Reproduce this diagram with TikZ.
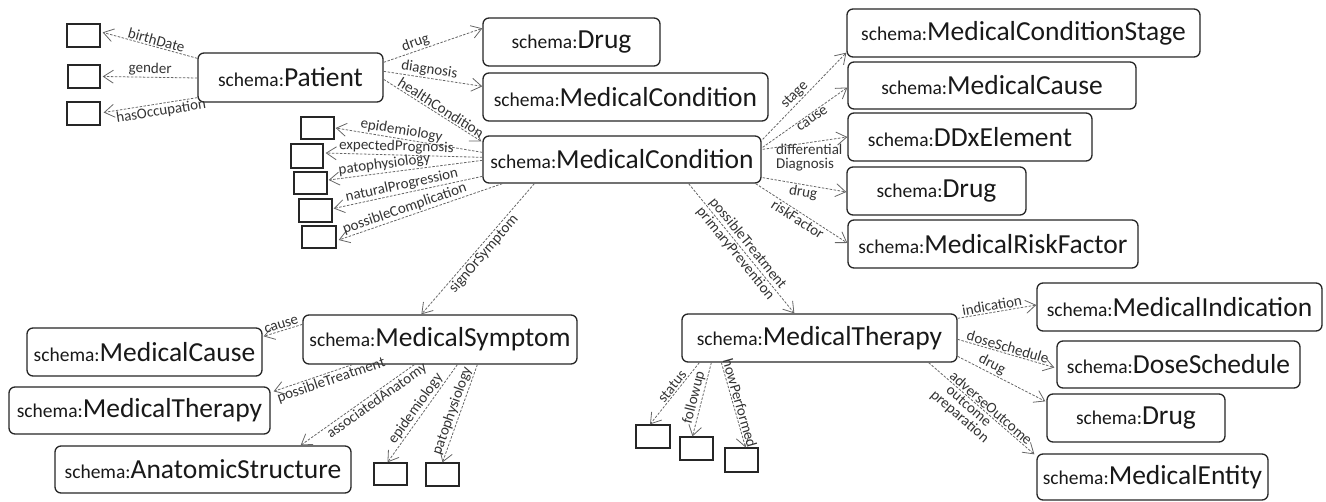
\documentclass[tikz,border=0pt]{standalone}
\usepackage{fontspec}
\setmainfont{Carlito}
\usetikzlibrary{arrows.meta,calc}
\newcommand{\schm}[1]{{\fontsize{19.5}{22}\selectfont schema:}{\fontsize{27.5}{31}\selectfont #1}}
\begin{document}
\begin{tikzpicture}[x=1pt,y=-1pt,
  cls/.style={draw=black!85, line width=1.3pt, rounded corners=6pt, fill=white, inner sep=0pt, text=black!90},
  lit/.style={draw=black!85, line width=1.3pt, fill=white, inner sep=0pt},
  rel/.style={draw=black!60, line width=0.8pt, dash pattern=on 2.5pt off 1.5pt, -{Straight Barb[length=10pt,width=13pt]}},
  labh/.style={font=\fontsize{15}{13.5}\selectfont, text=black!80, inner sep=1.2pt},
  lab/.style={labh, sloped}
]
\useasboundingbox (0,0) rectangle (1326,502);
% main boxes
\node[cls, minimum width=185pt, minimum height=49pt] (pat) at (290.5,77.5) {\schm{Patient}};
\node[cls, minimum width=177pt, minimum height=48pt] (drugA) at (571.5,42) {\schm{Drug}};
\node[cls, minimum width=285pt, minimum height=48pt] (mcA) at (625.5,97) {\schm{MedicalCondition}};
\node[cls, minimum width=278pt, minimum height=47pt] (mc) at (622,159.5) {\schm{MedicalCondition}};
\node[cls, minimum width=353pt, minimum height=48pt] (stage) at (1023.5,33) {\schm{MedicalConditionStage}};
\node[cls, minimum width=288pt, minimum height=47pt] (causeR) at (992,85.5) {\schm{MedicalCause}};
\node[cls, minimum width=244pt, minimum height=48pt] (ddx) at (970,137) {\schm{DDxElement}};
\node[cls, minimum width=179pt, minimum height=48pt] (drugR) at (936.5,191) {\schm{Drug}};
\node[cls, minimum width=290pt, minimum height=48pt] (risk) at (993,244) {\schm{MedicalRiskFactor}};
\node[cls, minimum width=274pt, minimum height=49pt] (sym) at (440,339.5) {\schm{MedicalSymptom}};
\node[cls, minimum width=235pt, minimum height=48pt] (causeL) at (144.5,352) {\schm{MedicalCause}};
\node[cls, minimum width=261pt, minimum height=47pt] (therL) at (139.5,410.5) {\schm{MedicalTherapy}};
\node[cls, minimum width=296pt, minimum height=47pt] (anat) at (203,469.5) {\schm{AnatomicStructure}};
\node[cls, minimum width=275pt, minimum height=48pt] (ther) at (819.5,338) {\schm{MedicalTherapy}};
\node[cls, minimum width=285pt, minimum height=48pt] (ind) at (1179.5,307) {\schm{MedicalIndication}};
\node[cls, minimum width=243pt, minimum height=47pt] (dose) at (1178.5,364.5) {\schm{DoseSchedule}};
\node[cls, minimum width=178pt, minimum height=48pt] (drugB) at (1136,418) {\schm{Drug}};
\node[cls, minimum width=231pt, minimum height=46pt] (ent) at (1152.5,477) {\schm{MedicalEntity}};
% literal boxes
\node[lit, minimum width=33pt, minimum height=23pt] (bd) at (83.5,35.5) {};
\node[lit, minimum width=32pt, minimum height=23pt] (gd) at (84,76.5) {};
\node[lit, minimum width=33pt, minimum height=23pt] (ho) at (83.5,113.5) {};
\node[lit, minimum width=33pt, minimum height=22pt] (b1) at (317.5,128) {};
\node[lit, minimum width=32pt, minimum height=24pt] (b2) at (307,156) {};
\node[lit, minimum width=33pt, minimum height=22pt] (b3) at (310.5,183) {};
\node[lit, minimum width=33pt, minimum height=23pt] (b4) at (315.5,210.5) {};
\node[lit, minimum width=34pt, minimum height=22pt] (b5) at (319,237) {};
\node[lit, minimum width=33pt, minimum height=22pt] (e2) at (390.5,474) {};
\node[lit, minimum width=33pt, minimum height=23pt] (p2) at (442.5,474.5) {};
\node[lit, minimum width=34pt, minimum height=23pt] (st) at (653,436.5) {};
\node[lit, minimum width=33pt, minimum height=23pt] (fu) at (696.5,448.5) {};
\node[lit, minimum width=33pt, minimum height=24pt] (hp) at (741.5,460) {};
% Patient
\draw[rel] ($(pat.north west)+(0,6)$) -- node[lab,above,pos=0.45]{birthDate} ($(bd.north east)+(2,9)$);
\draw[rel] ($(pat.west)+(0,0.5)$) -- node[lab,above]{gender} ($(gd.east)+(2,0)$);
\draw[rel] ($(pat.south west)+(0,-5)$) -- node[lab,below,pos=0.4]{hasOccupation} ($(ho.east)+(3,-1)$);
\draw[rel] ($(pat.north east)+(0,10)$) -- node[lab,above,pos=0.35]{drug} ($(drugA.north west)+(0,11)$);
\draw[rel] ($(pat.north east)+(0,19)$) -- node[lab,above,pos=0.45]{diagnosis} ($(mcA.north west)+(0,14)$);
\draw[rel] ($(pat.north east)+(0,27)$) -- node[lab,above,pos=0.55]{healthCondition} ($(mc.north west)+(-1,6)$);
% MedicalCondition left
\draw[rel] ($(mc.north west)+(0,17)$) -- node[lab,above,pos=0.56]{epidemiology} ($(b1.east)+(1,0)$);
\draw[rel] ($(mc.north west)+(0,22)$) -- node[lab,above,pos=0.55]{expectedPrognosis} ($(b2.east)+(2,-3)$);
\draw[rel] ($(mc.north west)+(0,25)$) -- node[lab,above,pos=0.63]{patophysiology} ($(b3.east)+(1,-3)$);
\draw[rel] ($(mc.north west)+(0,41)$) -- node[lab,above,pos=0.53]{naturalProgression} ($(b4.east)+(1,-2)$);
\draw[rel] ($(mc.south west)+(20,0)$) -- node[lab,above,pos=0.58]{possibleComplication} ($(b5.east)+(2,3)$);
% MedicalCondition right
\draw[rel] ($(mc.north east)+(1,4)$) -- node[lab,above,pos=0.45]{stage} ($(stage.south west)+(0,-5)$);
\draw[rel] ($(mc.north east)+(1,12)$) -- node[lab,below,pos=0.55]{cause} ($(causeR.west)+(0,2)$);
\draw[rel] ($(mc.north east)+(1,14)$) -- node[labh,below,pos=0.55,align=left]{differential\\Diagnosis} (ddx.west);
\draw[rel] ($(mc.south east)+(1,-6)$) -- node[lab,below,pos=0.5]{drug} ($(drugR.west)+(0,1)$);
\draw[rel] ($(mc.south east)+(-6,0)$) -- node[lab,below,pos=0.5]{riskFactor} ($(risk.west)+(0,-1)$);
% MedicalCondition down
\draw[rel] ($(mc.south west)+(52,0)$) -- node[lab,below,pos=0.5]{signOrSymptom} ($(sym.north west)+(119,0)$);
\draw[rel] ($(mc.south east)+(-73,0)$) -- node[lab,above,pos=0.5]{possibleTreatment} node[lab,below,pos=0.5]{primaryPrevention} ($(ther.north west)+(113,0)$);
% MedicalSymptom
\draw[rel] ($(sym.north west)+(0,10)$) -- node[lab,above,pos=0.5]{cause} ($(causeL.north east)+(1,9)$);
\draw[rel] ($(sym.south west)+(50,0)$) -- node[lab,below,pos=0.3]{possibleTreatment} ($(therL.north east)+(3,5)$);
\draw[rel] ($(sym.south west)+(112,0)$) -- node[lab,below,pos=0.37]{associatedAnatomy} ($(anat.north east)+(-51,0)$);
\draw[rel] ($(sym.south west)+(155,0)$) -- node[lab,above,pos=0.5]{epidemiology} ($(e2.north)+(-3,0)$);
\draw[rel] ($(sym.south west)+(175,0)$) -- node[lab,above,pos=0.5]{patophysiology} (p2.north);
% MedicalTherapy
\draw[rel] ($(ther.south west)+(18,0)$) -- node[lab,above,pos=0.45]{status} ($(st.north)+(-3,0)$);
\draw[rel] ($(ther.south west)+(30,0)$) -- node[lab,above,pos=0.5]{followup} ($(fu.north)+(-4,0)$);
\draw[rel] ($(ther.south west)+(40,0)$) -- node[lab,above,pos=0.5]{howPerformed} ($(hp.north)+(4,0)$);
\draw[rel] ($(ther.north east)+(0,5)$) -- node[lab,above,pos=0.45]{indication} ($(ind.west)+(0,-2)$);
\draw[rel] ($(ther.north east)+(0,26)$) -- node[lab,above,pos=0.5]{doseSchedule} ($(dose.west)+(-2,3)$);
\draw[rel] ($(ther.north east)+(0,43)$) -- node[lab,above,pos=0.35]{drug} ($(drugB.north west)+(-1,8)$);
\draw[rel] ($(ther.south east)+(-29,0)$) -- node[lab,above,pos=0.55]{adverseOutcome} node[lab,below,pos=0.42,align=center]{outcome\\preparation} ($(ent.north west)+(-2,1)$);
\end{tikzpicture}
\end{document}
